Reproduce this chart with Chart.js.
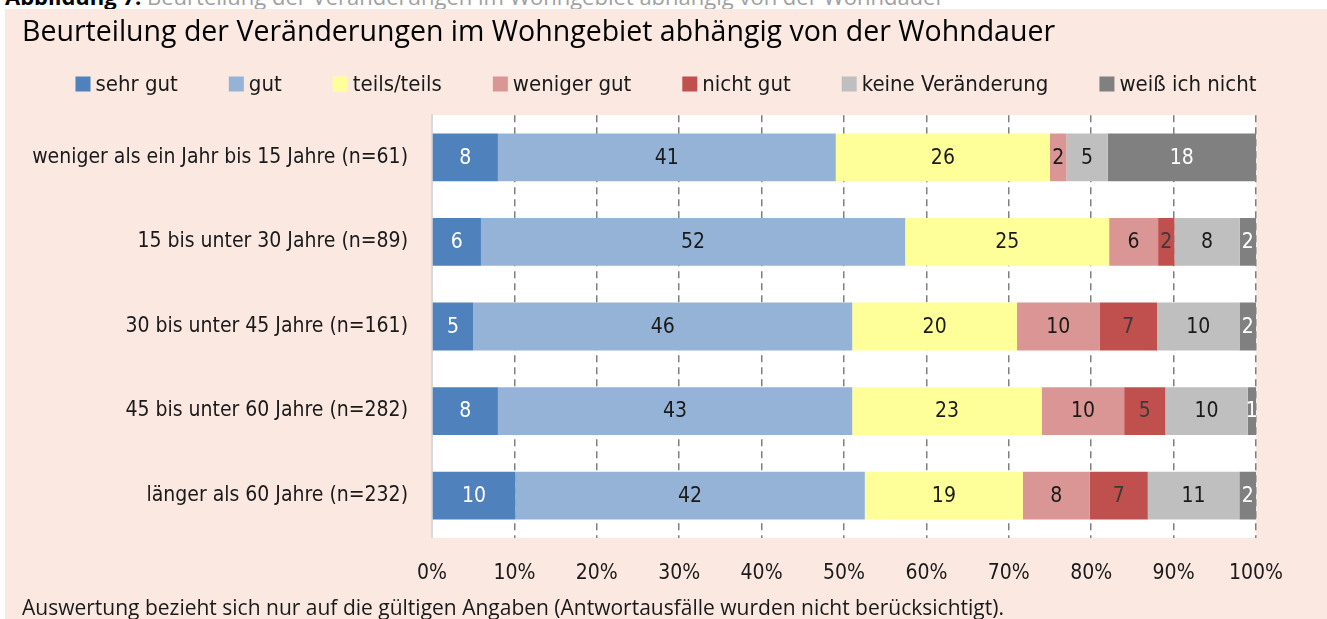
<!DOCTYPE html>
<html lang="de">
<head>
<meta charset="utf-8">
<title>Wohndauer</title>
<script src="https://cdn.jsdelivr.net/npm/chart.js@4.4.1/dist/chart.umd.min.js"></script>
<style>
  html, body { margin: 0; padding: 0; background: #fff; width: 1327px; height: 619px; overflow: hidden; }
  .caption { position: absolute; left: 5px; top: -19px; font: 22px 'Open Sans', sans-serif; white-space: nowrap; color: #a0a0a0; }
  .caption b { color: #000; }
  .panel { position: absolute; left: 5px; top: 9px; width: 1322px; height: 610px; background: #fae8e1; }
</style>
</head>
<body>
<div class="caption"><b>Abbildung 7:</b> Beurteilung der Veränderungen im Wohngebiet abhängig von der Wohndauer</div>
<div class="panel"><canvas id="wohndauerChart" width="1322" height="610"></canvas></div>
<script>
// Wohndauer-Gruppen (y-Achse)
const gruppen = [
  'weniger als ein Jahr bis 15 Jahre (n=61)',
  '15 bis unter 30 Jahre (n=89)',
  '30 bis unter 45 Jahre (n=161)',
  '45 bis unter 60 Jahre (n=282)',
  'länger als 60 Jahre (n=232)'
];

// Anteile in Prozent je Antwortkategorie
const sehrGut = [8, 6, 5, 8, 10];
const gut = [41, 52, 46, 43, 42];
const teilsTeils = [26, 25, 20, 23, 19];
const wenigerGut = [2, 6, 10, 10, 8];
const nichtGut = [0, 2, 7, 5, 7];
const keineVeraenderung = [5, 8, 10, 10, 11];
const weissNicht = [18, 2, 2, 1, 2];

const kategorien = ['sehr gut', 'gut', 'teils/teils', 'weniger gut', 'nicht gut', 'keine Veränderung', 'weiß ich nicht'];
const xTicks = [0, 10, 20, 30, 40, 50, 60, 70, 80, 90, 100];

const farben = ['#4f81bd', '#95b3d7', '#ffff99', '#da9694', '#c0504d', '#bfbfbf', '#808080'];
const schrift = ['#ffffff', '#1a1a1a', '#1a1a1a', '#1a1a1a', '#3a3a3a', '#1a1a1a', '#ffffff'];

const reihen = [sehrGut, gut, teilsTeils, wenigerGut, nichtGut, keineVeraenderung, weissNicht];

// gerundete Werte summieren sich nicht immer auf 100 -> je Zeile auf 100 % strecken
const summen = gruppen.map((_, i) => reihen.reduce((s, r) => s + r[i], 0));

const narrow = "'Liberation Sans Narrow', 'DejaVu Sans Condensed', 'Noto Sans', sans-serif";
const normal = "'Open Sans', 'Noto Sans', sans-serif";

const datasets = reihen.map((werte, k) => ({
  label: kategorien[k],
  data: werte.map((v, i) => v * 100 / summen[i]),
  roh: werte,
  backgroundColor: farben[k],
  labelColor: schrift[k],
  borderWidth: 0,
  categoryPercentage: 1,
  barPercentage: 0.565
}));

// weißer Hintergrund der Zeichenfläche
const flaeche = {
  id: 'flaeche',
  beforeDraw(chart) {
    const { ctx, chartArea: a } = chart;
    ctx.save();
    ctx.fillStyle = '#ffffff';
    ctx.fillRect(a.left, a.top, a.right - a.left, a.bottom - a.top);
    ctx.restore();
  }
};

// Zahlen mittig in die Balken schreiben
const werteLabels = {
  id: 'werteLabels',
  afterDatasetsDraw(chart) {
    const ctx = chart.ctx;
    ctx.save();
    ctx.font = '21px ' + narrow;
    ctx.textAlign = 'center';
    ctx.textBaseline = 'middle';
    chart.data.datasets.forEach((ds, k) => {
      chart.getDatasetMeta(k).data.forEach((bar, i) => {
        const v = ds.roh[i];
        if (!v) return;
        ctx.fillStyle = ds.labelColor;
        ctx.fillText(String(v), (bar.base + bar.x) / 2, bar.y + 1);
      });
    });
    ctx.restore();
  }
};

// Legende in einer Zeile, zentriert
const legende = {
  id: 'legende',
  afterDraw(chart) {
    const ctx = chart.ctx;
    const box = 15, luecke = 5, abstand = 51, y = 75;
    ctx.save();
    ctx.font = '22px ' + narrow;
    ctx.textBaseline = 'middle';
    const breiten = kategorien.map(t => ctx.measureText(t).width);
    const gesamt = breiten.reduce((s, w) => s + box + luecke + w, 0) + abstand * (kategorien.length - 1);
    let x = (chart.width - gesamt) / 2;
    kategorien.forEach((t, k) => {
      ctx.fillStyle = farben[k];
      ctx.fillRect(x, y - box / 2, box, box);
      ctx.fillStyle = '#1a1a1a';
      ctx.fillText(t, x + box + luecke, y + 1);
      x += box + luecke + breiten[k] + abstand;
    });
    ctx.restore();
  }
};

new Chart(document.getElementById('wohndauerChart'), {
  type: 'bar',
  data: { labels: gruppen, datasets: datasets },
  plugins: [flaeche, werteLabels, legende],
  options: {
    indexAxis: 'y',
    responsive: false,
    animation: false,
    layout: { padding: { left: 17, right: 71, top: 0, bottom: 0 } },
    scales: {
      x: {
        stacked: true,
        min: 0,
        max: 100,
        afterBuildTicks(scale) { scale.ticks = xTicks.map(v => ({ value: v })); },
        afterFit(scale) { scale.height = 46; },
        grid: {
          color: ctx => ctx.tick && ctx.tick.value === 0 ? 'rgba(0,0,0,0)' : '#7f7f7f',
          lineWidth: 1.5,
          drawTicks: false
        },
        border: { display: false, dash: [7, 5] },
        ticks: {
          padding: 23,
          color: '#1a1a1a',
          font: { family: narrow, size: 21 },
          callback: v => v + '%'
        }
      },
      y: {
        stacked: true,
        afterFit(scale) { scale.width = 410; },
        border: { display: true, color: '#d9d9d9', width: 2 },
        grid: { display: false },
        ticks: {
          padding: 16,
          color: '#1a1a1a',
          font: { family: narrow, size: 21 }
        }
      }
    },
    plugins: {
      legend: { display: false },
      tooltip: { enabled: false },
      title: {
        display: true,
        text: 'Beurteilung der Veränderungen im Wohngebiet abhängig von der Wohndauer',
        align: 'start',
        color: '#000000',
        font: { family: normal, size: 28.5, weight: 'normal', lineHeight: 1.2 },
        padding: { top: 7, bottom: 65 }
      },
      subtitle: {
        display: true,
        position: 'bottom',
        text: 'Auswertung bezieht sich nur auf die gültigen Angaben (Antwortausfälle wurden nicht berücksichtigt).',
        align: 'start',
        color: '#1a1a1a',
        font: { family: normal, size: 21, lineHeight: 1.2 },
        padding: { top: 13, bottom: -3 }
      }
    }
  }
});
</script>
</body>
</html>
